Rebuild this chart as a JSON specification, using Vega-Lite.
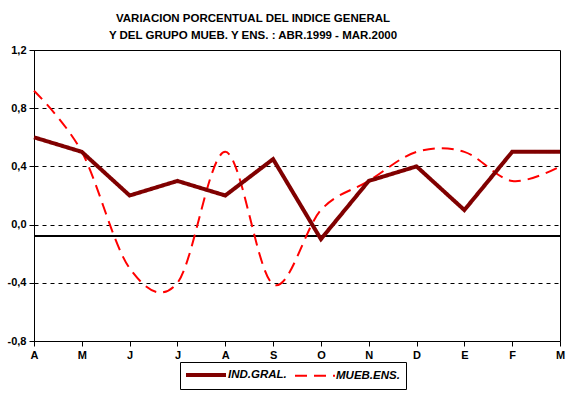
{
  "$schema": "https://vega.github.io/schema/vega-lite/v6.json",
  "autosize": "none",
  "padding": {"left": 34, "top": 50, "right": 11, "bottom": 58},
  "width": 526,
  "height": 291,
  "background": "white",
  "title": {
    "text": ["VARIACION PORCENTUAL DEL INDICE GENERAL", "Y DEL GRUPO MUEB. Y ENS. : ABR.1999 - MAR.2000"],
    "font": "Liberation Sans",
    "fontSize": 11.5,
    "fontWeight": "bold",
    "color": "black",
    "lineHeight": 16.5,
    "anchor": "middle",
    "dx": -44,
    "offset": 3
  },
  "config": {
    "view": {"stroke": "black", "strokeWidth": 1},
    "axis": {
      "labelFont": "Liberation Sans",
      "labelFontSize": 11,
      "labelFontWeight": "bold",
      "labelColor": "black",
      "domainColor": "black",
      "tickColor": "black",
      "tickSize": 5,
      "title": null
    }
  },
  "data": {
    "values": [
      {"mes": "ABR", "serie": "IND.GRAL.", "valor": 0.6},
      {"mes": "MAY", "serie": "IND.GRAL.", "valor": 0.5},
      {"mes": "JUN", "serie": "IND.GRAL.", "valor": 0.2},
      {"mes": "JUL", "serie": "IND.GRAL.", "valor": 0.3},
      {"mes": "AGO", "serie": "IND.GRAL.", "valor": 0.2},
      {"mes": "SEP", "serie": "IND.GRAL.", "valor": 0.45},
      {"mes": "OCT", "serie": "IND.GRAL.", "valor": -0.1},
      {"mes": "NOV", "serie": "IND.GRAL.", "valor": 0.3},
      {"mes": "DIC", "serie": "IND.GRAL.", "valor": 0.4},
      {"mes": "ENE", "serie": "IND.GRAL.", "valor": 0.1},
      {"mes": "FEB", "serie": "IND.GRAL.", "valor": 0.5},
      {"mes": "MAR", "serie": "IND.GRAL.", "valor": 0.5},
      {"mes": "ABR", "serie": "MUEB.ENS.", "valor": 0.92},
      {"mes": "MAY", "serie": "MUEB.ENS.", "valor": 0.5},
      {"mes": "JUN", "serie": "MUEB.ENS.", "valor": -0.3},
      {"mes": "JUL", "serie": "MUEB.ENS.", "valor": -0.4},
      {"mes": "AGO", "serie": "MUEB.ENS.", "valor": 0.5},
      {"mes": "SEP", "serie": "MUEB.ENS.", "valor": -0.41},
      {"mes": "OCT", "serie": "MUEB.ENS.", "valor": 0.1},
      {"mes": "NOV", "serie": "MUEB.ENS.", "valor": 0.3},
      {"mes": "DIC", "serie": "MUEB.ENS.", "valor": 0.5},
      {"mes": "ENE", "serie": "MUEB.ENS.", "valor": 0.5},
      {"mes": "FEB", "serie": "MUEB.ENS.", "valor": 0.3},
      {"mes": "MAR", "serie": "MUEB.ENS.", "valor": 0.4}
    ]
  },
  "encoding": {
    "x": {
      "field": "mes",
      "type": "ordinal",
      "sort": ["ABR", "MAY", "JUN", "JUL", "AGO", "SEP", "OCT", "NOV", "DIC", "ENE", "FEB", "MAR"],
      "scale": {"type": "point", "padding": 0},
      "axis": {"labelAngle": 0, "labelExpr": "substring(datum.label, 0, 1)", "labelPadding": 3, "grid": false}
    },
    "y": {
      "field": "valor",
      "type": "quantitative",
      "scale": {"domain": [-0.8, 1.2], "nice": false, "zero": false},
      "axis": {
        "values": [-0.8, -0.4, 0, 0.4, 0.8, 1.2],
        "labelExpr": "replace((datum.value < 0 ? '-' : '') + format(abs(datum.value), '.1f'), '.', ',')",
        "grid": true,
        "gridColor": "black",
        "gridDash": [4, 4],
        "gridWidth": 1,
        "labelPadding": 3
      }
    }
  },
  "layer": [
    {
      "mark": {"type": "rule", "color": "black", "strokeWidth": 1.5},
      "encoding": {"y": {"datum": -0.08}, "x": null}
    },
    {
      "transform": [{"filter": "datum.serie === 'MUEB.ENS.'"}],
      "mark": {"type": "line", "interpolate": "cardinal", "tension": 0},
      "encoding": {
        "color": {"field": "serie", "type": "nominal", "scale": {"domain": ["IND.GRAL.", "MUEB.ENS."], "range": ["#800000", "#FF0000"]}, "legend": {
          "orient": "none", "legendX": 146, "legendY": 312, "direction": "horizontal", "title": null,
          "symbolType": "M-4,0L4,0", "symbolSize": 100, "symbolOffset": 13,
          "labelFont": "Liberation Sans", "labelFontSize": 11.5, "labelFontWeight": "bold", "labelFontStyle": "italic", "labelColor": "black",
          "strokeColor": "black", "padding": 6, "columnPadding": 4, "labelOffset": 15
        }},
        "strokeDash": {"field": "serie", "type": "nominal", "scale": {"domain": ["IND.GRAL.", "MUEB.ENS."], "range": [[1, 0], [12, 7]]}},
        "strokeWidth": {"field": "serie", "type": "nominal", "scale": {"domain": ["IND.GRAL.", "MUEB.ENS."], "range": [4, 2]}}
      }
    },
    {
      "transform": [{"filter": "datum.serie === 'IND.GRAL.'"}],
      "mark": {"type": "line", "interpolate": "linear"},
      "encoding": {
        "color": {"field": "serie", "type": "nominal"},
        "strokeDash": {"field": "serie", "type": "nominal"},
        "strokeWidth": {"field": "serie", "type": "nominal"}
      }
    }
  ]
}
